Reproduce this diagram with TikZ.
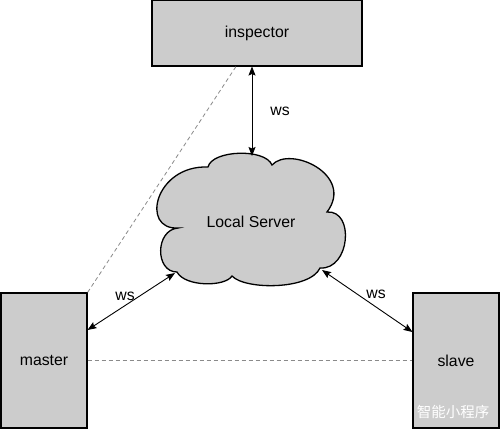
\documentclass[tikz,border=0pt]{standalone}
\usepackage{fontspec}
\setmainfont{Liberation Sans}
\newfontfamily\cjk{Noto Sans CJK SC}
\usetikzlibrary{arrows.meta}
\definecolor{boxgray}{HTML}{CCCCCC}
\definecolor{dashgray}{HTML}{8A8A8A}
\tikzset{
  box/.style={draw=black, fill=boxgray, line width=1.3pt, inner sep=0pt, font=\fontsize{15.8}{18}\selectfont},
  lbl/.style={font=\fontsize{15.8}{18}\selectfont, inner sep=0pt},
  wsarrow/.style={line width=0.9pt, {Stealth[length=9pt,width=7pt,inset=1.5pt]}-{Stealth[length=9pt,width=7pt,inset=1.5pt]}},
  dashline/.style={draw=dashgray, line width=0.8pt, dash pattern=on 4pt off 3pt}
}
\begin{document}
\begin{tikzpicture}[x=1pt,y=-1pt]
\useasboundingbox (0,0) rectangle (500,429);
\fill[white] (0,0) rectangle (500,429);

% boxes
\node[box, minimum width=210pt, minimum height=65.3pt] (inspector) at (257,33.35) {inspector};
\node[box, minimum width=86pt, minimum height=135pt] (master) at (44,360.5) {master};
\node[box, minimum width=86pt, minimum height=135pt] (slave) at (456,360.5) {slave};

% cloud
\draw[fill=boxgray, line width=1.3pt]
  (178,228) .. controls (140,230) and (155,165) .. (208,167)
  .. controls (212,150) and (265,148) .. (272,165)
  .. controls (290,145) and (355,175) .. (327,212)
  .. controls (355,210) and (350,270) .. (320,268)
  .. controls (310,290) and (245,290) .. (232,276)
  .. controls (225,287) and (185,287) .. (177,272)
  .. controls (155,272) and (155,230) .. cycle;
\node[lbl] (server) at (251,222) {Local Server};

% connector end points
\coordinate (iA) at (252,66.5);
\coordinate (cT) at (252,156);
\coordinate (mA) at (87.5,330);
\coordinate (cL) at (175,273);
\coordinate (cR) at (322,270);
\coordinate (sA) at (412.5,332);
\coordinate (iD) at (236,66.5);

% dashed lines
\draw[dashline] (master.north east) -- (iD);
\draw[dashline] (master.east) -- (slave.west);

% ws arrows
\draw[wsarrow] (iA) -- (cT);
\draw[wsarrow] (mA) -- (cL);
\draw[wsarrow] (cR) -- (sA);

\node[lbl] (ws1) at (280,111) {ws};
\node[lbl] (ws2) at (125,296) {ws};
\node[lbl] (ws3) at (376,294) {ws};

% watermark
\node[inner sep=0pt, text=white, font=\cjk\fontsize{14.5}{16}\selectfont] (wm) at (453,412) {智能小程序};
\end{tikzpicture}
\end{document}
